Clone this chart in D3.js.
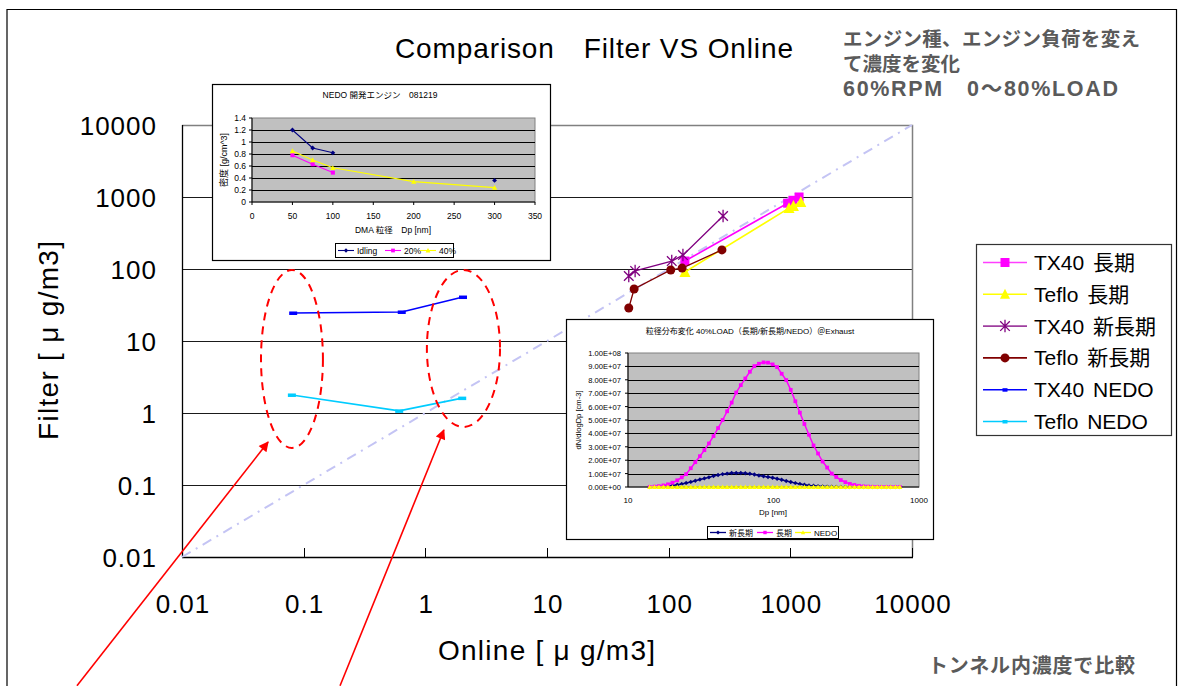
<!DOCTYPE html>
<html><head><meta charset="utf-8">
<script src="https://cdn.jsdelivr.net/npm/d3@7"></script>
<style>
body{margin:0;background:#fff;}
svg{display:block;}
text{font-family:"Liberation Sans","Noto Sans CJK JP",sans-serif;fill:#000;}
</style></head><body>
<svg id="c" width="1180" height="686"></svg>
<script>
// ---- main comparison: Online vs Filter (µg/m3), pairs [online, filter] ----
const tx40Long  = [[136,129],[950,820],[1050,900],[1180,1000]];
const tefloLong = [[136,91],[975,700],[1060,750],[1220,850]];
const tx40New   = [[47,80],[53,94],[106,129],[131,156],[280,545]];
const tefloNew  = [[47,28.7],[52,52.7],[104,97],[129,103],[274,184]];
const tx40Nedo  = [[0.082,24.5],[0.64,25.3],[2.04,40.8]];
const tefloNedo = [[0.080,1.78],[0.61,1.07],[2.01,1.61]];
const seriesNames = ["TX40 長期","Teflo 長期","TX40 新長期","Teflo 新長期","TX40 NEDO","Teflo NEDO"];
const decadeTicks = [0.01,0.1,1,10,100,1000,10000];
const decadeLabels = ["0.01","0.1","1","10","100","1000","10000"];

// ---- inset: effective density vs DMA diameter ----
const densityDp     = [50,75,100,200,300];
const densityIdling = [1.2,0.9,0.82,null,0.36];
const density20     = [0.78,0.63,0.49,null,null];
const density40     = [0.85,0.70,0.57,0.34,0.24];
const densityXTicks = [0,50,100,150,200,250,300,350];
const densityYTicks = [0,0.2,0.4,0.6,0.8,1,1.2,1.4];
const densityYLabels = ["0","0.2","0.4","0.6","0.8","1","1.2","1.4"];
const densityNames = ["Idling","20%","40%"];

// ---- inset: size distribution, dN/dlogDp in units of 1e7 cm-3 ----
const sizeDp = [14.1,15.2,16.3,17.5,18.8,20.2,21.8,23.4,25.1,27.0,29.0,31.2,33.5,36.0,38.7,41.6,
  44.7,48.0,51.6,55.4,59.6,64.0,68.8,73.9,79.4,85.4,91.7,98.6,105.9,113.8,122.3,131.4,141.3,151.8,
  163.1,175.3,188.4,202.4,217.5,233.8,251.2,270.0,290.1,311.8,335.0,360.0,386.9,415.8,446.7,480.1,
  515.9,554.4,595.7,640.2,688.0,739.3];
const sizeLong = [0.01,0.03,0.06,0.12,0.2,0.32,0.5,0.72,0.96,1.4,1.85,2.3,2.75,3.25,3.8,4.4,
  5.0,5.65,6.3,7.05,7.6,8.1,8.6,9.02,9.2,9.3,9.28,9.15,8.95,8.45,7.98,7.25,6.4,5.55,
  4.7,3.9,3.1,2.5,1.9,1.45,1.0,0.75,0.52,0.36,0.23,0.15,0.09,0.05,0.03,0.015,
  0.01,0.005,0.003,0.002,0.001,0.001];
const sizeNew = [0.005,0.01,0.03,0.05,0.08,0.12,0.17,0.23,0.3,0.38,0.47,0.56,0.64,0.72,0.82,0.9,
  0.96,1.0,1.04,1.05,1.05,1.03,0.99,0.93,0.86,0.8,0.75,0.69,0.62,0.54,0.45,0.37,0.29,0.22,
  0.17,0.12,0.09,0.065,0.045,0.03,0.02,0.013,0.008,0.005,0.003,0.002,0.001,0.001,0,0,
  0,0,0,0,0,0];
const sizeNedo = [0,0,0,0,0,0,0,0,0,0,0,0,0,0,0,0,
  0,0,0,0,0,0,0,0,0,0,0,0,0,0,0,0,0,0,
  0,0,0,0,0,0,0,0,0,0,0,0,0,0,0,0,
  0,0,0,0,0,0];
const sizeYTicks = [0,1,2,3,4,5,6,7,8,9,10];
const sizeYLabels = ["0.00E+00","1.00E+07","2.00E+07","3.00E+07","4.00E+07","5.00E+07",
  "6.00E+07","7.00E+07","8.00E+07","9.00E+07","1.00E+08"];
const sizeXTicks = [10,100,1000];
const sizeNames = ["新長期","長期","NEDO"];

const svg = d3.select("#c");

// outer frame
svg.append("path").attr("d","M7,686V9.5H1176.5V686").attr("fill","none").attr("stroke","#000").attr("stroke-width",1.2);

// ---------- main plot ----------
const x = d3.scaleLog().domain([0.01,10000]).range([182,912]);
const y = d3.scaleLog().domain([0.01,10000]).range([557,125]);
const main = svg.append("g");

// horizontal gridlines at each decade
main.selectAll("line.grid").data(decadeTicks.slice(1,-1)).join("line")
  .attr("x1",x(0.01)).attr("x2",x(10000)).attr("y1",d=>Math.round(y(d))+0.5).attr("y2",d=>Math.round(y(d))+0.5)
  .attr("stroke","#1a1a1a").attr("stroke-width",1.2);
// plot-area border (top/right)
main.append("path").attr("d",`M${x(0.01)},${y(10000)+0.5}H${x(10000)+0.5}V${y(0.01)}`)
  .attr("fill","none").attr("stroke","#808080").attr("stroke-width",1.5);
// axes
main.append("line").attr("x1",x(0.01)+0.5).attr("x2",x(0.01)+0.5).attr("y1",y(10000)).attr("y2",y(0.01))
  .attr("stroke","#000").attr("stroke-width",1.3);
main.append("line").attr("x1",x(0.01)).attr("x2",x(10000)+1).attr("y1",y(0.01)+0.5).attr("y2",y(0.01)+0.5)
  .attr("stroke","#000").attr("stroke-width",1.3);
main.selectAll("line.xt").data(decadeTicks).join("line")
  .attr("x1",d=>Math.round(x(d))+0.5).attr("x2",d=>Math.round(x(d))+0.5)
  .attr("y1",y(0.01)).attr("y2",y(0.01)-9).attr("stroke","#000").attr("stroke-width",1);

// tick labels
main.selectAll("text.yl").data(decadeTicks).join("text")
  .attr("x",157).attr("y",d=>y(d)+9.5).attr("text-anchor","end")
  .attr("font-size",26).attr("letter-spacing",1).text((d,i)=>decadeLabels[i]);
main.selectAll("text.xl").data(decadeTicks).join("text")
  .attr("x",d=>x(d)+1).attr("y",613).attr("text-anchor","middle")
  .attr("font-size",26).attr("letter-spacing",1).text((d,i)=>decadeLabels[i]);

// axis titles
svg.append("text").attr("x",438).attr("y",660).attr("font-size",28)
  .attr("textLength",217).attr("lengthAdjust","spacing").text("Online [ μ g/m3]");
svg.append("text").attr("transform","translate(58,440) rotate(-90)").attr("font-size",28)
  .attr("textLength",199).attr("lengthAdjust","spacing").text("Filter [ μ g/m3]");

// chart title and notes
svg.append("text").attr("x",395).attr("y",58).attr("font-size",28)
  .attr("textLength",398).attr("lengthAdjust","spacing").text("Comparison　Filter VS Online");
const noteFont = "'Noto Sans CJK JP',sans-serif";
[["エンジン種、エンジン負荷を変え",46,297,19.5],["て濃度を変化",71,null,19.5],["60%RPM　0～80%LOAD",96,275,21.5]].forEach(([t,yy,len,fs])=>{
  const tx = svg.append("text").attr("x",843).attr("y",yy).attr("font-weight","bold").attr("font-size",fs)
    .attr("font-family",noteFont).style("fill","#5a5a5a").text(t);
  if(len) tx.attr("textLength",len).attr("lengthAdjust","spacing");
});
svg.append("text").attr("x",928).attr("y",673).attr("font-weight","bold").attr("font-size",20)
  .attr("font-family",noteFont).style("fill","#5a5a5a")
  .attr("textLength",207).attr("lengthAdjust","spacing").text("トンネル内濃度で比較");

// 1:1 reference line
main.append("line").attr("x1",x(0.01)).attr("y1",y(0.01)).attr("x2",x(10000)).attr("y2",y(10000))
  .attr("stroke","#c4c4f4").attr("stroke-width",2).attr("stroke-dasharray","10,6,2,6");

// markers
function asteriskPath(r){
  return `M${-r},${-r}L${r},${r}M${-r},${r}L${r},${-r}M0,${-r*1.3}L0,${r*1.3}`;
}
const styles = [
  {data:tx40Long, line:"#ff00ff", w:1.6, mark:"square", fill:"#ff00ff", size:9},
  {data:tefloLong, line:"#ffff00", w:1.6, mark:"triangle", fill:"#ffff00", size:11},
  {data:tx40New, line:"#800080", w:1.3, mark:"asterisk", fill:"#800080", size:6},
  {data:tefloNew, line:"#800000", w:1.3, mark:"circle", fill:"#800000", size:9},
  {data:tx40Nedo, line:"#0000ff", w:1.6, mark:"dash", fill:"#0000ff", size:8},
  {data:tefloNedo, line:"#00ccff", w:1.6, mark:"dash", fill:"#00ccff", size:8},
];
function drawMarker(g, s, cx, cy){
  if(s.mark==="square"){
    g.append("rect").attr("x",cx-s.size/2).attr("y",cy-s.size/2).attr("width",s.size).attr("height",s.size).attr("fill",s.fill);
  } else if(s.mark==="triangle"){
    const h=s.size*0.9;
    g.append("path").attr("d",`M${cx},${cy-h/2-1}L${cx+s.size/2},${cy+h/2}L${cx-s.size/2},${cy+h/2}Z`).attr("fill",s.fill);
  } else if(s.mark==="circle"){
    g.append("circle").attr("cx",cx).attr("cy",cy).attr("r",s.size/2).attr("fill",s.fill);
  } else if(s.mark==="asterisk"){
    g.append("path").attr("transform",`translate(${cx},${cy})`).attr("d",asteriskPath(s.size*0.8))
      .attr("stroke",s.fill).attr("stroke-width",1.3).attr("fill","none");
  } else if(s.mark==="dash"){
    g.append("rect").attr("x",cx-s.size/2).attr("y",cy-1.5).attr("width",s.size).attr("height",3.5).attr("fill",s.fill);
  }
}
const lineGen = d3.line().x(d=>x(d[0])).y(d=>y(d[1]));
styles.forEach(s=>{
  const g = main.append("g");
  g.append("path").attr("d",lineGen(s.data)).attr("fill","none").attr("stroke",s.line).attr("stroke-width",s.w);
  s.data.forEach(d=>drawMarker(g,s,x(d[0]),y(d[1])));
});

// legend
const lg = svg.append("g");
lg.append("rect").attr("x",976.5).attr("y",244.5).attr("width",195).attr("height",191)
  .attr("fill","#fff").attr("stroke","#333").attr("stroke-width",1.2);
styles.forEach((s,i)=>{
  const yy = 262.5 + i*31.8;
  lg.append("line").attr("x1",983).attr("x2",1027).attr("y1",yy).attr("y2",yy)
    .attr("stroke",s.line).attr("stroke-width",1.6).attr("opacity",s.mark==="square"||s.mark==="asterisk"?0.75:1);
  const ls = Object.assign({},s);
  if(s.mark==="dash") ls.size=5;
  if(s.mark==="triangle") ls.size=10;
  drawMarker(lg, ls, 1005, yy);
  lg.append("text").attr("x",1034).attr("y",yy+7.5).attr("font-size",21).attr("word-spacing",3).text(seriesNames[i]);
});

// red annotation ellipses and arrows (placed in data space)
const ann = svg.append("g");
[[0.0446,0.144,0.327,96.9],[1.03,4.11,0.64,96.9]].forEach(([x0,x1,y0,y1])=>{
  const cx=(x(x0)+x(x1))/2, cy=(y(y0)+y(y1))/2;
  ann.append("ellipse").attr("cx",cx).attr("cy",cy).attr("rx",(x(x1)-x(x0))/2).attr("ry",(y(y0)-y(y1))/2)
    .attr("fill","none").attr("stroke","#ff0000").attr("stroke-width",2).attr("stroke-dasharray","8,6");
});
svg.append("defs").append("marker").attr("id","ah").attr("viewBox","0 0 10 10").attr("refX",9).attr("refY",5)
  .attr("markerUnits","userSpaceOnUse").attr("orient","auto")
  .attr("markerWidth",14).attr("markerHeight",10)
  .append("path").attr("d","M0,0L10,5L0,10Z").attr("fill","#ff0000");
[[0.00137,0.000163,0.051,0.395],[0.199,0.000163,1.42,0.58]].forEach(([ax,ay,bx,by])=>{
  ann.append("line").attr("x1",x(ax)).attr("y1",y(ay)).attr("x2",x(bx)).attr("y2",y(by))
    .attr("stroke","#ff0000").attr("stroke-width",1.6).attr("marker-end","url(#ah)");
});

// ---------- inset 1: density ----------
const i1 = svg.append("g");
i1.append("rect").attr("x",212.5).attr("y",84.5).attr("width",338).attr("height",176)
  .attr("fill","#fff").attr("stroke","#000").attr("stroke-width",1.2);
const dx = d3.scaleLinear().domain([0,350]).range([252,535]);
const dy = d3.scaleLinear().domain([0,1.4]).range([202,118]);
i1.append("rect").attr("x",dx(0)).attr("y",dy(1.4)).attr("width",dx(350)-dx(0)).attr("height",dy(0)-dy(1.4))
  .attr("fill","#c0c0c0").attr("stroke","#808080");
i1.selectAll("line.g").data(densityYTicks.slice(1,-1)).join("line")
  .attr("x1",dx(0)).attr("x2",dx(350)).attr("y1",d=>Math.round(dy(d))+0.5).attr("y2",d=>Math.round(dy(d))+0.5)
  .attr("stroke","#000").attr("stroke-width",1);
i1.append("line").attr("x1",dx(0)).attr("x2",dx(0)).attr("y1",dy(1.4)).attr("y2",dy(0)).attr("stroke","#000");
i1.append("line").attr("x1",dx(0)).attr("x2",dx(350)).attr("y1",dy(0)).attr("y2",dy(0)).attr("stroke","#000");
i1.selectAll("line.yt").data(densityYTicks).join("line")
  .attr("x1",dx(0)-3).attr("x2",dx(0)).attr("y1",d=>dy(d)).attr("y2",d=>dy(d)).attr("stroke","#000");
i1.selectAll("line.xt").data(densityXTicks).join("line")
  .attr("x1",d=>dx(d)).attr("x2",d=>dx(d)).attr("y1",dy(0)).attr("y2",dy(0)+3).attr("stroke","#000");
i1.selectAll("text.yl").data(densityYTicks).join("text")
  .attr("x",dx(0)-6).attr("y",d=>dy(d)+3).attr("text-anchor","end").attr("font-size",8.5).text((d,i)=>densityYLabels[i]);
i1.selectAll("text.xl").data(densityXTicks).join("text")
  .attr("x",d=>dx(d)).attr("y",219).attr("text-anchor","middle").attr("font-size",8.5).text(d=>d);
i1.append("text").attr("x",380).attr("y",98).attr("text-anchor","middle").attr("font-size",8.5).text("NEDO 開発エンジン　081219");
i1.append("text").attr("x",393).attr("y",233).attr("text-anchor","middle").attr("font-size",8.5).text("DMA 粒径　Dp [nm]");
i1.append("text").attr("transform","translate(227,160) rotate(-90)").attr("text-anchor","middle").attr("font-size",9).text("密度 [g/cm^3]");
const dStyles = [
  {v:densityIdling, c:"#000080", m:"diamond"},
  {v:density20, c:"#ff00ff", m:"square"},
  {v:density40, c:"#ffff00", m:"triangle"},
];
function smallMarker(g, m, c, cx, cy, s){
  if(m==="diamond") g.append("path").attr("d",`M${cx},${cy-s}L${cx+s},${cy}L${cx},${cy+s}L${cx-s},${cy}Z`).attr("fill",c);
  else if(m==="square") g.append("rect").attr("x",cx-s*0.85).attr("y",cy-s*0.85).attr("width",s*1.7).attr("height",s*1.7).attr("fill",c);
  else g.append("path").attr("d",`M${cx},${cy-s*1.1}L${cx+s*1.1},${cy+s*0.9}L${cx-s*1.1},${cy+s*0.9}Z`).attr("fill",c);
}
dStyles.forEach(s=>{
  const pts = densityDp.map((d,i)=>[d,s.v[i]]);
  const ln = d3.line().defined(d=>d[1]!==null).x(d=>dx(d[0])).y(d=>dy(d[1]));
  i1.append("path").attr("d",ln(pts)).attr("fill","none").attr("stroke",s.c).attr("stroke-width",1.1);
  pts.filter(d=>d[1]!==null).forEach(d=>smallMarker(i1,s.m,s.c,dx(d[0]),dy(d[1]),2.4));
});
i1.append("rect").attr("x",335.5).attr("y",243.5).attr("width",118).attr("height",14).attr("fill","#fff").attr("stroke","#000");
[[338,"Idling"],[385,"20%"],[420,"40%"]].forEach(([lx,t],i)=>{
  const s=dStyles[i];
  i1.append("line").attr("x1",lx).attr("x2",lx+16).attr("y1",250.5).attr("y2",250.5).attr("stroke",s.c).attr("stroke-width",1.1);
  smallMarker(i1,s.m,s.c,lx+8,250.5,2.2);
  i1.append("text").attr("x",lx+19).attr("y",254).attr("font-size",8.5).text(densityNames[i]);
});

// ---------- inset 2: size distribution ----------
const i2 = svg.append("g");
i2.append("rect").attr("x",566.5).attr("y",319.5).attr("width",367).attr("height",220)
  .attr("fill","#fff").attr("stroke","#000").attr("stroke-width",1.2);
const sx = d3.scaleLog().domain([10,1000]).range([628,919]);
const sy = d3.scaleLinear().domain([0,10]).range([487,353]);
i2.append("rect").attr("x",sx(10)).attr("y",sy(10)).attr("width",sx(1000)-sx(10)).attr("height",sy(0)-sy(10))
  .attr("fill","#c0c0c0").attr("stroke","#808080");
i2.selectAll("line.g").data(sizeYTicks.slice(1,-1)).join("line")
  .attr("x1",sx(10)).attr("x2",sx(1000)).attr("y1",d=>Math.round(sy(d))+0.5).attr("y2",d=>Math.round(sy(d))+0.5)
  .attr("stroke","#000").attr("stroke-width",1);
i2.append("line").attr("x1",sx(10)).attr("x2",sx(10)).attr("y1",sy(10)).attr("y2",sy(0)).attr("stroke","#000");
i2.append("line").attr("x1",sx(10)).attr("x2",sx(1000)).attr("y1",sy(0)).attr("y2",sy(0)).attr("stroke","#000");
i2.selectAll("line.yt").data(sizeYTicks).join("line")
  .attr("x1",sx(10)-3).attr("x2",sx(10)).attr("y1",d=>sy(d)).attr("y2",d=>sy(d)).attr("stroke","#000");
i2.selectAll("text.yl").data(sizeYTicks).join("text")
  .attr("x",sx(10)-7).attr("y",d=>sy(d)+3).attr("text-anchor","end").attr("font-size",7.6).text((d,i)=>sizeYLabels[i]);
i2.selectAll("text.xl").data(sizeXTicks).join("text")
  .attr("x",d=>sx(d)).attr("y",503).attr("text-anchor","middle").attr("font-size",8).text(d=>d);
i2.append("text").attr("x",750).attr("y",334).attr("text-anchor","middle").attr("font-size",8)
  .text("粒径分布変化 40%LOAD（長期/新長期/NEDO）＠Exhaust");
i2.append("text").attr("x",773).attr("y",515).attr("text-anchor","middle").attr("font-size",8).text("Dp [nm]");
i2.append("text").attr("transform","translate(581,420) rotate(-90)").attr("text-anchor","middle").attr("font-size",7.6).text("dN/dlogDp [cm-3]");
const sStyles = [
  {v:sizeNew, c:"#000080", m:"diamond"},
  {v:sizeLong, c:"#ff00ff", m:"square"},
  {v:sizeNedo, c:"#ffff00", m:"triangle"},
];
sStyles.forEach(s=>{
  const pts = sizeDp.map((d,i)=>[d,s.v[i]]);
  const ln = d3.line().x(d=>sx(d[0])).y(d=>sy(d[1]));
  i2.append("path").attr("d",ln(pts)).attr("fill","none").attr("stroke",s.c).attr("stroke-width",1.5);
  pts.forEach(d=>smallMarker(i2,s.m,s.c,sx(d[0]),sy(d[1]),2.2));
});
i2.append("rect").attr("x",707.5).attr("y",526.5).attr("width",131).attr("height",12).attr("fill","#fff").attr("stroke","#000");
[[710,"新長期"],[757,"長期"],[795,"NEDO"]].forEach(([lx,t],i)=>{
  const s=sStyles[i];
  i2.append("line").attr("x1",lx).attr("x2",lx+16).attr("y1",532.5).attr("y2",532.5).attr("stroke",s.c).attr("stroke-width",1.3);
  smallMarker(i2,s.m,s.c,lx+8,532.5,2);
  i2.append("text").attr("x",lx+19).attr("y",536).attr("font-size",8).text(sizeNames[i]);
});
</script>
</body></html>
